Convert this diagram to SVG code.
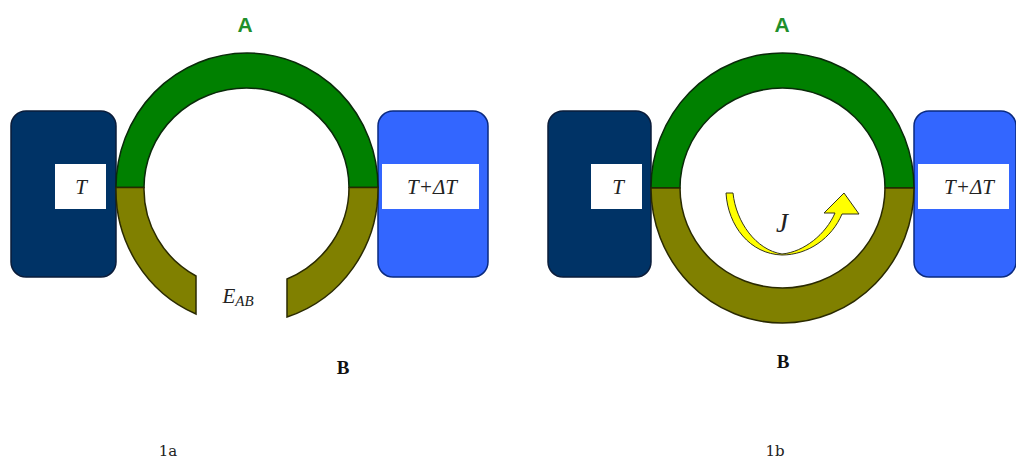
<svg xmlns="http://www.w3.org/2000/svg" width="1016" height="459" viewBox="0 0 1016 459">
<style>
.tc{font-family:"Liberation Serif",serif;font-style:italic;fill:#222;font-size:21px;text-anchor:middle}
.a{font-family:"Liberation Sans",sans-serif;font-weight:bold;fill:#1f8f2c;font-size:21px;text-anchor:middle}
.b{font-family:"Liberation Serif",serif;font-weight:bold;fill:#111;font-size:19px;text-anchor:middle}
.cap{font-family:"DejaVu Serif",serif;fill:#222;font-size:15px;text-anchor:middle}
.dark{fill:#003366;stroke:#0a1c3a;stroke-width:1.5}
.light{fill:#3366ff;stroke:#0a2a80;stroke-width:1.5}
.w{fill:#fff}
.green{fill:#008000;stroke:#0a2a0a;stroke-width:1.5}
.olive{fill:#808000;stroke:#2a2a00;stroke-width:1.5}
</style>
<rect width="1016" height="459" fill="#fff"/>
<g id="thermo-1a">
<g id="cold-1a"><rect class="dark" x="11" y="111" width="105" height="166" rx="15"/><rect class="w" x="55" y="164" width="51" height="45"/><text class="tc" x="81" y="194">T</text></g>
<g id="hot-1a"><rect class="light" x="378" y="111" width="110" height="166" rx="15"/><rect class="w" x="382" y="164" width="97" height="45"/><text class="tc" x="432" y="194">T+ΔT</text></g>
<g id="wire-a-1a"><path class="green" d="M116 187.500A131 134.500 0 0 1 378 187.500H349A102.500 99.500 0 0 0 144 187.500Z"/></g>
<g id="wire-b-1a">
<path class="olive" d="M116 187.500A131 134.500 0 0 0 196 314V276A102.500 99.500 0 0 1 144 187.500Z"/>
<path class="olive" d="M378 187.500A131 134.500 0 0 1 287 317V279A102.500 99.500 0 0 0 349 187.500Z"/>
</g>
<text class="a" x="245" y="32">A</text>
<text class="tc" x="238" y="303" font-size="23">E<tspan font-size="15" dy="3">AB</tspan></text>
<text class="b" x="343" y="374">B</text>
<text class="cap" x="168" y="456">1a</text>
</g>
<g id="thermo-1b">
<g id="cold-1b"><rect class="dark" x="548" y="111" width="103" height="166" rx="15"/><rect class="w" x="591" y="164" width="51" height="45"/><text class="tc" x="618" y="194">T</text></g>
<g id="hot-1b"><rect class="light" x="914" y="111" width="102" height="166" rx="15"/><rect class="w" x="918" y="164" width="91" height="45"/><text class="tc" x="969" y="194">T+ΔT</text></g>
<g id="wire-a-1b"><path class="green" d="M651 188A131.500 135 0 0 1 914 188H885A102.500 100 0 0 0 680 188Z"/></g>
<g id="wire-b-1b"><path class="olive" d="M651 188A131.500 135 0 0 0 914 188H885A102.500 100 0 0 1 680 188Z"/></g>
<text class="a" x="782" y="32">A</text>
<text class="b" x="783" y="368">B</text>
<text class="tc" x="782" y="232" style="font-size:27px">J</text>
<text class="cap" x="775" y="456">1b</text>
</g>
<g id="connectors">
<path d="M726 193H733C736 222 756 250 782 254C804 252 826 234 835 213H824L844 193 859 214H842C832 238 808 255 782 255C750 254 728 226 726 193Z" fill="#ffff00" stroke="#33331a" stroke-width="1"/>
</g>
</svg>
